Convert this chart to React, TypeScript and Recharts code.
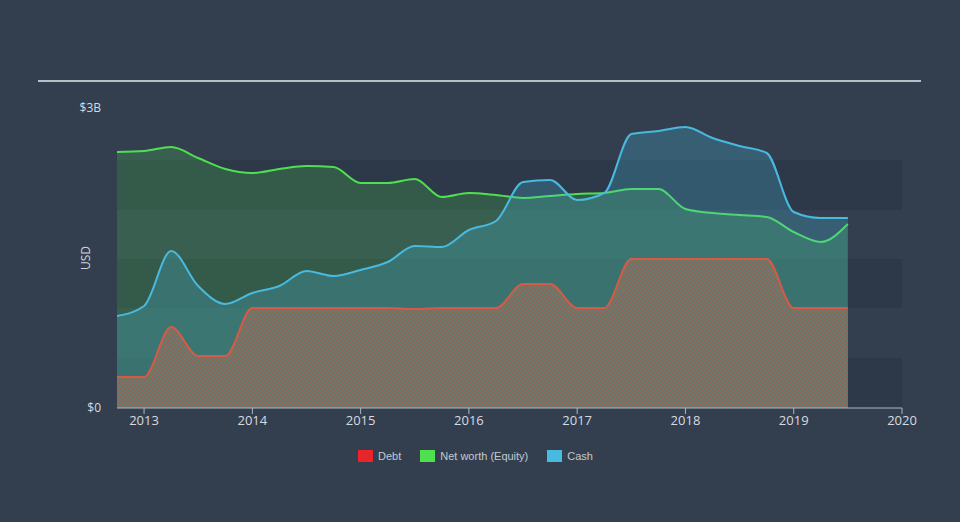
import React from "react";
import { ComposedChart, Area, XAxis, YAxis, ReferenceArea } from "recharts";

// quarterly points, values in $B
const quarters = [
  2012.75, 2013, 2013.25, 2013.5, 2013.75, 2014, 2014.25, 2014.5, 2014.75, 2015,
  2015.25, 2015.5, 2015.75, 2016, 2016.25, 2016.5, 2016.75, 2017, 2017.25, 2017.5,
  2017.75, 2018, 2018.25, 2018.5, 2018.75, 2019, 2019.25, 2019.5,
];
const debt = [
  0.31, 0.31, 0.81, 0.52, 0.52, 1.0, 1.0, 1.0, 1.0, 1.0,
  1.0, 0.99, 1.0, 1.0, 1.0, 1.24, 1.24, 1.0, 1.0, 1.49,
  1.49, 1.49, 1.49, 1.49, 1.49, 1.0, 1.0, 1.0,
];
const equity = [
  2.56, 2.57, 2.61, 2.5, 2.39, 2.35, 2.39, 2.42, 2.41, 2.25,
  2.25, 2.29, 2.11, 2.15, 2.13, 2.1, 2.12, 2.14, 2.15, 2.19,
  2.19, 1.99, 1.95, 1.93, 1.91, 1.76, 1.66, 1.84,
];
const cash = [
  0.92, 1.02, 1.57, 1.22, 1.04, 1.15, 1.22, 1.37, 1.32, 1.38,
  1.46, 1.62, 1.61, 1.78, 1.87, 2.26, 2.28, 2.08, 2.15, 2.74,
  2.77, 2.81, 2.7, 2.62, 2.55, 1.96, 1.9, 1.9,
];
const yearTicks = [2013, 2014, 2015, 2016, 2017, 2018, 2019, 2020];
const valueTicks = [0, 3];
const bands = [
  [0, 0.5],
  [1.0, 1.49],
  [1.98, 2.48],
];
const legendItems = [
  { name: "Debt", color: "#e8252b" },
  { name: "Net worth (Equity)", color: "#4fe04f" },
  { name: "Cash", color: "#48bae0" },
];

const data = quarters.map((t, i) => ({ t, debt: debt[i], equity: equity[i], cash: cash[i] }));

const BG = "#333f4f";
const FONT = "'Open Sans', 'Liberation Sans', sans-serif";

if (typeof document !== "undefined") {
  document.body.style.margin = "0";
  document.body.style.background = BG;
}

const fmtValue = (v: number) => (v === 0 ? "$0" : `$${v}B`);

const UsdLabel = (props: any) => {
  const vb = props.viewBox || {};
  const x = vb.x + vb.width - 32;
  const y = vb.y + vb.height / 2;
  return (
    <text x={x} y={y} transform={`rotate(-90 ${x} ${y})`} textAnchor="middle" dominantBaseline="central" fill="#cfd4da" fontSize={12} fontFamily={FONT}>
      USD
    </text>
  );
};

export default function App() {
  return (
    <div style={{ position: "relative", width: 960, height: 522, background: BG, fontFamily: FONT, overflow: "hidden" }}>
      <div style={{ position: "absolute", left: 38, top: 80, width: 883, height: 2, background: "#b8bec5" }} />
      <ComposedChart width={960} height={522} data={data} margin={{ top: 108, right: 58, bottom: 84, left: 0 }}>
        <defs>
          <pattern id="hatch" width="4" height="4" patternUnits="userSpaceOnUse">
            <rect width="4" height="4" fill="#5c8075" />
            <path d="M0,0 L4,4 M-1,3 L1,5 M3,-1 L5,1" stroke="#94604f" strokeWidth="1" />
          </pattern>
        </defs>
        <XAxis
          type="number"
          dataKey="t"
          domain={[2012.75, 2020]}
          ticks={yearTicks}
          allowDataOverflow
          height={30}
          stroke="#aeb7c0"
          tick={{ fill: "#d6dbe0", fontSize: 13, fontFamily: FONT }}
          tickSize={6}
        />
        <YAxis
          type="number"
          domain={[0, 3]}
          ticks={valueTicks}
          width={117}
          axisLine={false}
          tickLine={false}
          tickSize={0}
          tickMargin={16}
          tickFormatter={fmtValue}
          tick={{ fill: "#d6dbe0", fontSize: 12, fontFamily: FONT }}
          label={{ content: UsdLabel }}
        />
        {bands.map(([y1, y2]) => (
          <ReferenceArea key={y1} x1={2012.75} x2={2020} y1={y1} y2={y2} fill="#2d3948" fillOpacity={1} stroke="none" />
        ))}
        <Area type="monotone" dataKey="equity" stroke="#4fe04f" strokeWidth={2} fill="#4fe04f" fillOpacity={0.2} isAnimationActive={false} />
        <Area type="monotone" dataKey="cash" stroke="#48bae0" strokeWidth={2} fill="#48bae0" fillOpacity={0.25} isAnimationActive={false} />
        <Area type="monotone" dataKey="debt" stroke="#d65a45" strokeWidth={2} fill="url(#hatch)" fillOpacity={1} isAnimationActive={false} />
      </ComposedChart>
      <div style={{ position: "absolute", top: 450, left: 358, display: "flex", alignItems: "center", fontSize: 11, color: "#c3c9cf", fontFamily: "'Liberation Sans', Arial, sans-serif" }}>
        {legendItems.map((it) => (
          <div key={it.name} style={{ display: "flex", alignItems: "center", marginRight: 19 }}>
            <span style={{ display: "inline-block", width: 15, height: 12, background: it.color, marginRight: 5 }} />
            <span>{it.name}</span>
          </div>
        ))}
      </div>
    </div>
  );
}
